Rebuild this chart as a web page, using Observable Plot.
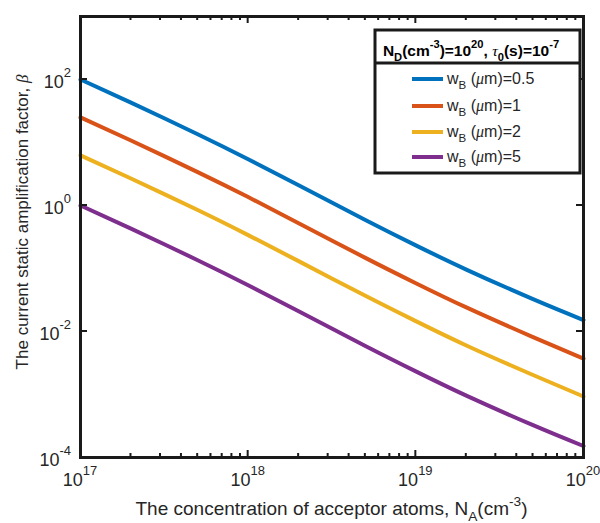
<!DOCTYPE html>
<html><head><meta charset="utf-8">
<script src="https://cdn.jsdelivr.net/npm/d3@7"></script>
<script src="https://cdn.jsdelivr.net/npm/@observablehq/plot@0.6"></script>
<style>body{margin:0;background:#fff} svg{display:block}</style>
</head><body><div id="chart"></div>
<script>
// ---- data ----
const NA = [1e17, 2e17, 5e17, 1e18, 2e18, 5e18, 1e19, 2e19, 5e19, 1e20];
const beta_w05 = [100, 42.9, 13.55, 5.43, 2.09, 0.59, 0.233, 0.0962, 0.0326, 0.0152];
const beta_w1  = [25, 10.74, 3.39, 1.36, 0.523, 0.1475, 0.0584, 0.0241, 0.00815, 0.0037];
const beta_w2  = [6.25, 2.68, 0.847, 0.339, 0.131, 0.0369, 0.0146, 0.0060, 0.00204, 0.00093];
const beta_w5  = [1.0, 0.43, 0.1355, 0.0543, 0.0209, 0.0059, 0.00233, 0.00096, 0.000326, 0.000152];
const seriesW = ["0.5", "1", "2", "5"];
const seriesColors = ["#0072BD", "#D95319", "#EDB120", "#7E2F8E"];
const xMajorTicks = [1e17, 1e18, 1e19, 1e20];
const xMajorExp = ["17", "18", "19", "20"];
const yMajorTicks = [1e-4, 1e-2, 1, 1e2];
const yMajorExp = ["-4", "-2", "0", "2"];

const allBeta = [beta_w05, beta_w1, beta_w2, beta_w5];
const data = [];
seriesW.forEach((w, k) => NA.forEach((na, i) => data.push({w, na, beta: allBeta[k][i]})));

const FONT = "'Liberation Sans', Arial, Helvetica, sans-serif";
const SERIF = "'Liberation Serif', 'DejaVu Serif', serif";
const TXT = "#262626";

const plot = Plot.plot({
  width: 600, height: 523,
  marginLeft: 80, marginRight: 17, marginTop: 16, marginBottom: 66,
  x: {type: "log", domain: [1e17, 1e20], axis: null},
  y: {type: "log", domain: [1e-4, 1e3], axis: null},
  color: {domain: seriesW, range: seriesColors},
  style: {fontFamily: FONT, background: "white"},
  marks: [
    Plot.line(data, {x: "na", y: "beta", z: "w", stroke: "w", strokeWidth: 4, curve: "natural"}),
    Plot.frame({stroke: "#1a1a1a", strokeWidth: 3})
  ]
});
document.getElementById("chart").appendChild(plot);

const svg = d3.select(plot);
const sx = plot.scale("x"), sy = plot.scale("y");
const X = v => sx.apply(v), Y = v => sy.apply(v);
const xL = X(1e17), xR = X(1e20), yB = Y(1e-4), yT = Y(1e3);

function mkText(parent, x, y, size, anchor, opts = {}) {
  return parent.append("text").attr("x", x).attr("y", y)
    .style("font-family", FONT).style("font-size", size + "px")
    .style("text-anchor", anchor).style("fill", opts.fill || TXT)
    .style("font-weight", opts.bold ? "bold" : "normal");
}
// rich text helper (sub/superscripts, italics)
function rich(sel, segs, size, supShift = 0.5) {
  let cur = 0;
  segs.forEach(([t, type, style]) => {
    const target = type === "sup" ? -supShift * size : type === "sub" ? 0.32 * size : 0;
    const ts = sel.append("tspan").attr("dy", target - cur).text(t);
    if (type) ts.style("font-size", (size * 0.72) + "px");
    if (style === "i") ts.style("font-style", "italic").style("font-family", SERIF).style("font-weight", "normal");
    cur = target;
  });
}

// ticks (inward, all four sides)
const tg = svg.append("g").attr("stroke", "#1a1a1a").attr("stroke-width", 2);
const xMinor = [];
xMajorTicks.slice(0, -1).forEach(d => { for (let m = 2; m <= 9; m++) xMinor.push(m * d); });
xMinor.forEach(v => {
  tg.append("line").attr("x1", X(v)).attr("x2", X(v)).attr("y1", yB).attr("y2", yB - 4);
  tg.append("line").attr("x1", X(v)).attr("x2", X(v)).attr("y1", yT).attr("y2", yT + 4);
});
xMajorTicks.forEach(v => {
  tg.append("line").attr("x1", X(v)).attr("x2", X(v)).attr("y1", yB).attr("y2", yB - 7);
  tg.append("line").attr("x1", X(v)).attr("x2", X(v)).attr("y1", yT).attr("y2", yT + 7);
});
yMajorTicks.forEach(v => {
  tg.append("line").attr("y1", Y(v)).attr("y2", Y(v)).attr("x1", xL).attr("x2", xL + 7);
  tg.append("line").attr("y1", Y(v)).attr("y2", Y(v)).attr("x1", xR).attr("x2", xR - 7);
});

// tick labels
xMajorTicks.forEach((v, i) => {
  const t = mkText(svg, X(v), yB + 29, 18, "middle");
  rich(t, [["10"], [xMajorExp[i], "sup"]], 18, 0.62);
});
yMajorTicks.forEach((v, i) => {
  const t = mkText(svg, xL - 9, Y(v) + 9, 18, "end");
  rich(t, [["10"], [yMajorExp[i], "sup"]], 18, 0.62);
});

// axis labels
const xl = mkText(svg, (xL + xR) / 2, 515, 19, "middle");
rich(xl, [["The concentration of acceptor atoms, N"], ["A", "sub"], ["(cm"], ["-3", "sup"], [")"]], 19);

const yl = mkText(svg, 0, 0, 17, "middle").attr("transform", `translate(28,222) rotate(-90)`);
rich(yl, [["The current static amplification factor, "], ["β", null, "i"]], 17);

// legend
const lg = svg.append("g");
lg.append("rect").attr("x", 375).attr("y", 30).attr("width", 205).attr("height", 143)
  .attr("fill", "white").attr("stroke", "#1a1a1a").attr("stroke-width", 3);
lg.append("line").attr("x1", 375).attr("x2", 580).attr("y1", 63).attr("y2", 63)
  .attr("stroke", "#1a1a1a").attr("stroke-width", 3);
const lt = mkText(lg, 471, 56, 15.5, "middle", {bold: true, fill: "#000"});
rich(lt, [["N"], ["D", "sub"], ["(cm"], ["-3", "sup"], [")=10"], ["20", "sup"], [", "], ["τ", null, "i"], ["0", "sub"], ["(s)=10"], ["-7", "sup"]], 15.5);
const rowsY = [79, 106, 132, 157];
seriesW.forEach((w, i) => {
  lg.append("line").attr("x1", 412).attr("x2", 443).attr("y1", rowsY[i]).attr("y2", rowsY[i])
    .attr("stroke", seriesColors[i]).attr("stroke-width", 4);
  const t = mkText(lg, 447, rowsY[i] + 5, 16, "start");
  rich(t, [["w"], ["B", "sub"], [" ("], ["μ", null, "i"], ["m)=" + w]], 16);
});
</script>
</body></html>
